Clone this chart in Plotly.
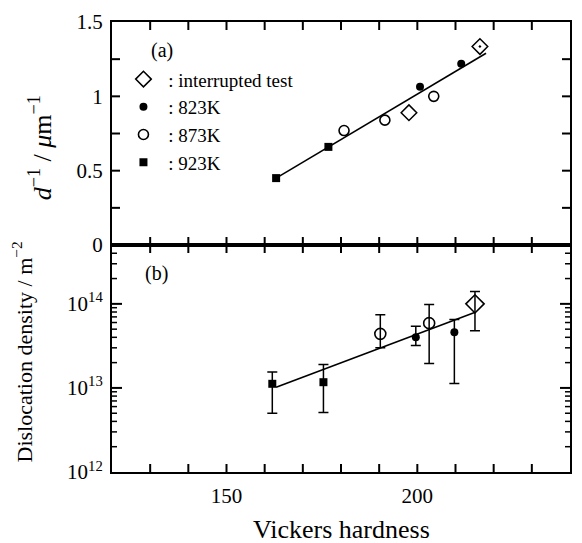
import plotly.graph_objects as go

# ---------------- data ----------------
# (a) inverse grain size vs Vickers hardness
hv_int_a = [197.8, 216.4]
d_int_a = [0.89, 1.335]
hv_823_a = [200.7, 211.5]
d_823_a = [1.065, 1.22]
hv_873_a = [180.8, 191.5, 204.3]
d_873_a = [0.77, 0.84, 1.00]
hv_923_a = [163.0, 176.7]
d_923_a = [0.45, 0.66]
fit_hv_a = [163.0, 218.0]
fit_d_a = [0.45, 1.29]

# (b) dislocation density vs Vickers hardness
hv_int_b = [215.1]
rho_int_b = [1.0e14]
rho_int_hi = [1.4e14]
rho_int_lo = [4.8e13]
hv_823_b = [199.6, 209.7]
rho_823_b = [4.0e13, 4.6e13]
rho_823_hi = [5.4e13, 6.5e13]
rho_823_lo = [3.2e13, 1.13e13]
hv_873_b = [190.3, 203.1]
rho_873_b = [4.4e13, 5.9e13]
rho_873_hi = [7.4e13, 9.8e13]
rho_873_lo = [3.0e13, 1.95e13]
hv_923_b = [162.0, 175.4]
rho_923_b = [1.12e13, 1.17e13]
rho_923_hi = [1.55e13, 1.9e13]
rho_923_lo = [5.0e12, 5.1e12]
fit_hv_b = [163.0, 215.0]
fit_rho_b = [1.02e13, 7.9e13]

x_ticks = [130, 140, 150, 160, 170, 180, 190, 200, 210, 220, 230]
x_ticklabels = ["", "", "150", "", "", "", "", "200", "", "", ""]
ya_ticks = [0, 0.25, 0.5, 0.75, 1.0, 1.25, 1.5]
ya_ticklabels = ["0", "", "0.5", "", "1", "", "1.5"]
yb_ticks = [1e12, 1e13, 1e14]
yb_ticklabels = ["10<sup>12</sup>", "10<sup>13</sup>", "10<sup>14</sup>"]
yb_minor = [m * 10 ** e for e in (12, 13, 14) for m in range(2, 10) if m * 10 ** e < 10 ** 14.7]

names = [" : interrupted test", " : 823K", " : 873K", " : 923K"]

FONT = "Liberation Serif"
BLACK = "black"


def err(vals, hi, lo):
    return dict(type="data", symmetric=False,
                array=[h - v for h, v in zip(hi, vals)],
                arrayminus=[v - l for v, l in zip(vals, lo)],
                color=BLACK, thickness=1.5, width=5)


fig = go.Figure()

# ---- panel (a) ----
fig.add_trace(go.Scatter(x=fit_hv_a, y=fit_d_a, mode="lines",
                         line=dict(color=BLACK, width=1.6),
                         showlegend=False, xaxis="x2", yaxis="y"))
fig.add_trace(go.Scatter(x=hv_int_a, y=d_int_a, mode="markers", name=names[0],
                         marker=dict(symbol=["diamond-open", "diamond-open-dot"], size=12,
                                     color=BLACK, line=dict(width=1.5, color=BLACK)),
                         xaxis="x2", yaxis="y"))
fig.add_trace(go.Scatter(x=hv_823_a, y=d_823_a, mode="markers", name=names[1],
                         marker=dict(symbol="circle", size=8, color=BLACK),
                         xaxis="x2", yaxis="y"))
fig.add_trace(go.Scatter(x=hv_873_a, y=d_873_a, mode="markers", name=names[2],
                         marker=dict(symbol="circle-open", size=10, color=BLACK,
                                     line=dict(width=1.6, color=BLACK)),
                         xaxis="x2", yaxis="y"))
fig.add_trace(go.Scatter(x=hv_923_a, y=d_923_a, mode="markers", name=names[3],
                         marker=dict(symbol="square", size=8, color=BLACK),
                         xaxis="x2", yaxis="y"))

# ---- panel (b) ----
fig.add_trace(go.Scatter(x=fit_hv_b, y=fit_rho_b, mode="lines",
                         line=dict(color=BLACK, width=1.6),
                         showlegend=False, xaxis="x", yaxis="y2"))
fig.add_trace(go.Scatter(x=hv_int_b, y=rho_int_b, mode="markers", showlegend=False,
                         error_y=err(rho_int_b, rho_int_hi, rho_int_lo),
                         marker=dict(symbol="diamond-open", size=14, color=BLACK,
                                     line=dict(width=1.6, color=BLACK)),
                         xaxis="x", yaxis="y2"))
fig.add_trace(go.Scatter(x=hv_823_b, y=rho_823_b, mode="markers", showlegend=False,
                         error_y=err(rho_823_b, rho_823_hi, rho_823_lo),
                         marker=dict(symbol="circle", size=8, color=BLACK),
                         xaxis="x", yaxis="y2"))
fig.add_trace(go.Scatter(x=hv_873_b, y=rho_873_b, mode="markers", showlegend=False,
                         error_y=err(rho_873_b, rho_873_hi, rho_873_lo),
                         marker=dict(symbol="circle-open", size=11, color=BLACK,
                                     line=dict(width=1.6, color=BLACK)),
                         xaxis="x", yaxis="y2"))
fig.add_trace(go.Scatter(x=hv_923_b, y=rho_923_b, mode="markers", showlegend=False,
                         error_y=err(rho_923_b, rho_923_hi, rho_923_lo),
                         marker=dict(symbol="square", size=8, color=BLACK),
                         xaxis="x", yaxis="y2"))

split = (472 - 243) / 454

# ---- inward tick marks on every edge (pixel-sized shapes placed at tick values) ----
shapes = []


def x_edge_ticks(xref, ydom, vals, length, width=2):
    ln = dict(color=BLACK, width=width)
    for v in vals:
        shapes.append(dict(type="line", xref=xref, yref=ydom, x0=v, x1=v,
                           ysizemode="pixel", yanchor=0, y0=0, y1=length,
                           line=ln, layer="above"))
        shapes.append(dict(type="line", xref=xref, yref=ydom, x0=v, x1=v,
                           ysizemode="pixel", yanchor=1, y0=0, y1=-length,
                           line=ln, layer="above"))


def y_edge_ticks(yref, xdom, vals, length, width=2):
    ln = dict(color=BLACK, width=width)
    for v in vals:
        shapes.append(dict(type="line", yref=yref, xref=xdom, y0=v, y1=v,
                           xsizemode="pixel", xanchor=0, x0=0, x1=length,
                           line=ln, layer="above"))
        shapes.append(dict(type="line", yref=yref, xref=xdom, y0=v, y1=v,
                           xsizemode="pixel", xanchor=1, x0=0, x1=-length,
                           line=ln, layer="above"))


x_edge_ticks("x", "y2 domain", x_ticks, 8)
x_edge_ticks("x2", "y domain", x_ticks, 8)
y_edge_ticks("y", "x2 domain", ya_ticks[1:-1], 8)
y_edge_ticks("y2", "x domain", yb_ticks[1:], 10)
y_edge_ticks("y2", "x domain", yb_minor, 5, width=1.5)

axis_common = dict(showline=True, linecolor=BLACK, linewidth=2, mirror=True,
                   ticks="", showgrid=False, zeroline=False,
                   tickfont=dict(family=FONT, size=21, color=BLACK))

ann_font = dict(family=FONT, size=20, color=BLACK)

fig.update_layout(
    width=582, height=543,
    margin=dict(l=112, r=10, t=18, b=71),
    paper_bgcolor="white", plot_bgcolor="white",
    font=dict(family=FONT, color=BLACK),
    shapes=shapes,
    xaxis=dict(range=[120, 240], anchor="y2", tickmode="array", tickvals=x_ticks,
               ticktext=x_ticklabels, ticklabelstandoff=4, **axis_common),
    xaxis2=dict(range=[120, 240], anchor="y", matches="x", tickmode="array",
                tickvals=x_ticks, showticklabels=False, **axis_common),
    yaxis=dict(domain=[split, 1], range=[0, 1.5], anchor="x2", tickmode="array",
               tickvals=ya_ticks, ticktext=ya_ticklabels, ticklabelstandoff=3,
               **axis_common),
    yaxis2=dict(domain=[0, split], type="log", range=[12, 14.7], anchor="x",
                tickmode="array", tickvals=yb_ticks, ticktext=yb_ticklabels,
                ticklabelstandoff=3, **axis_common),
    legend=dict(x=0.025, y=0.915, xanchor="left", yanchor="top",
                bgcolor="rgba(0,0,0,0)", font=dict(family=FONT, size=19, color=BLACK),
                itemwidth=30, tracegroupgap=0),
    annotations=[
        dict(text="(a)", x=0.109, y=0.936, xref="paper", yref="paper",
             xanchor="center", yanchor="middle", showarrow=False, font=ann_font),
        dict(text="(b)", x=0.098, y=0.4405, xref="paper", yref="paper",
             xanchor="center", yanchor="middle", showarrow=False, font=ann_font),
        dict(text="<i>d</i><sup>−1</sup> / <i>μ</i>m<sup>−1</sup>", x=-0.1565, y=0.72,
             xref="paper", yref="paper", textangle=-90, showarrow=False,
             xanchor="center", yanchor="middle",
             font=dict(family=FONT, size=26, color=BLACK)),
        dict(text="Dislocation density / m<sup>−2</sup>", x=-0.1957, y=0.2665,
             xref="paper", yref="paper", textangle=-90, showarrow=False,
             xanchor="center", yanchor="middle",
             font=dict(family=FONT, size=22, color=BLACK)),
        dict(text="Vickers hardness", x=0.502, y=-0.1278, xref="paper", yref="paper",
             xanchor="center", yanchor="middle", showarrow=False,
             font=dict(family=FONT, size=26, color=BLACK)),
    ],
)

fig.write_html("out.html")
